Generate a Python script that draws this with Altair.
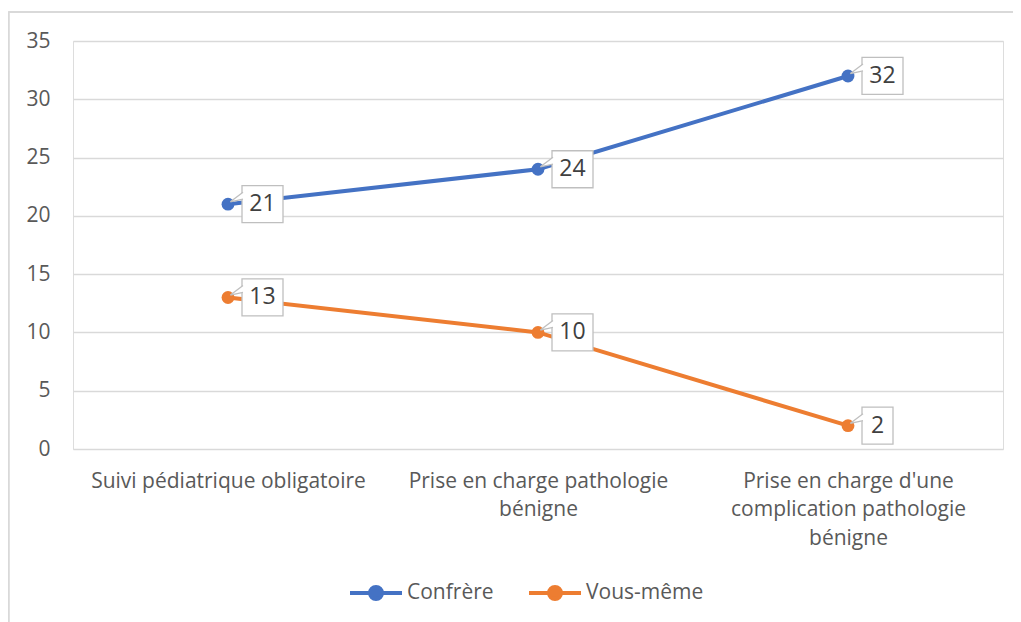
import altair as alt
import pandas as pd

categories = [
    "Suivi pédiatrique obligatoire",
    "Prise en charge pathologie bénigne",
    "Prise en charge d'une complication pathologie bénigne",
]
label_lines = [
    ["Suivi pédiatrique obligatoire"],
    ["Prise en charge pathologie", "bénigne"],
    ["Prise en charge d'une", "complication pathologie", "bénigne"],
]
series = ["Confrère", "Vous-même"]
confrere = [21, 24, 32]
vous_meme = [13, 10, 2]
colors = ["#4472C4", "#ED7D31"]

rows = []
for c, v in zip(categories, confrere):
    rows.append({"cat": c, "serie": series[0], "val": v})
for c, v in zip(categories, vous_meme):
    rows.append({"cat": c, "serie": series[1], "val": v})
df = pd.DataFrame(rows)
df["lab"] = df["val"].astype(str)
df["len"] = df["lab"].str.len()

expr_parts = []
for c, lines in zip(categories, label_lines):
    arr = "[" + ",".join("'" + l.replace("'", "\\'") + "'" for l in lines) + "]"
    expr_parts.append(f"datum.value == '{c.replace(chr(39), chr(92) + chr(39))}' ? {arr}")
label_expr = " : ".join(expr_parts) + " : datum.value"

FONT = "Open Sans"
TXT = "#595959"
GRID = "#D9D9D9"

x_enc = alt.X(
    "cat:N",
    sort=categories,
    scale=alt.Scale(type="point", padding=0.5),
    axis=alt.Axis(
        title=None, labelAngle=0, labelExpr=label_expr, domain=False, ticks=False,
        labelFont=FONT, labelFontSize=21, labelColor=TXT, labelPadding=21,
        labelLineHeight=28.5, labelBaseline="top", labelLimit=400,
    ),
)
y_enc = alt.Y(
    "val:Q",
    scale=alt.Scale(domain=[0, 35], nice=False),
    axis=alt.Axis(
        title=None, values=[0, 5, 10, 15, 20, 25, 30, 35], grid=True, gridColor=GRID,
        gridWidth=1.3, domain=False, ticks=False, labelFont=FONT, labelFontSize=21,
        labelColor=TXT, labelPadding=23,
    ),
)
color_enc = alt.Color(
    "serie:N",
    scale=alt.Scale(domain=series, range=colors),
    legend=alt.Legend(
        title=None, orient="none", direction="horizontal", legendX=275, legendY=524,
        symbolType="M-1,0 L1,0 M0.23,0 A0.23,0.23 0 1,1 -0.23,0 A0.23,0.23 0 1,1 0.23,0",
        symbolSize=2704, symbolStrokeWidth=4, labelFont=FONT, labelFontSize=21,
        labelColor=TXT, labelOffset=3, columnPadding=27,
    ),
)

base = alt.Chart(df)

lines = base.mark_line(strokeWidth=4).encode(x=x_enc, y=y_enc, color=color_enc)
points = base.mark_point(filled=True, size=165, opacity=1).encode(
    x=x_enc, y=y_enc, color=alt.Color("serie:N", scale=alt.Scale(domain=series, range=colors), legend=None)
)

box2 = base.transform_filter("datum.len == 2").mark_rect(
    width=41, height=37, xOffset=34.5, fill="white", stroke="#BFBFBF", strokeWidth=1.3
).encode(x=x_enc, y=y_enc)
box1 = base.transform_filter("datum.len == 1").mark_rect(
    width=31, height=37, xOffset=29.5, fill="white", stroke="#BFBFBF", strokeWidth=1.3
).encode(x=x_enc, y=y_enc)

pointer = base.mark_point(
    shape="M0.75,-0.6 L0.12,-0.12 L0.75,-0.25", size=1600, fill="white", filled=False,
    stroke="#BFBFBF", strokeWidth=1.3, opacity=1, fillOpacity=1,
).encode(x=x_enc, y=y_enc)

text2 = base.transform_filter("datum.len == 2").mark_text(
    font=FONT, fontSize=23, color="#404040", xOffset=34.5, baseline="middle"
).encode(x=x_enc, y=y_enc, text="lab:N")
text1 = base.transform_filter("datum.len == 1").mark_text(
    font=FONT, fontSize=23, color="#404040", xOffset=29.5, baseline="middle"
).encode(x=x_enc, y=y_enc, text="lab:N")

border_v = alt.Chart(df).mark_rule(color=GRID, strokeWidth=1.5).encode(
    x=alt.value(-64.5), y=alt.value(-29), y2=alt.value(600)
)
border_h = alt.Chart(df).mark_rule(color=GRID, strokeWidth=1.5).encode(
    x=alt.value(-64.5), x2=alt.value(960), y=alt.value(-29)
)

chart = alt.layer(
    border_v, border_h, lines, points, box2, box1, pointer, text2, text1
).properties(
    width=930, height=408,
    autosize=alt.AutoSizeParams(type="none"),
    padding={"left": 65, "top": 33, "right": 10, "bottom": 175},
).configure_view(stroke=None).configure(background="white")

chart.save("out.html", embed_options={"renderer": "svg", "actions": False})
